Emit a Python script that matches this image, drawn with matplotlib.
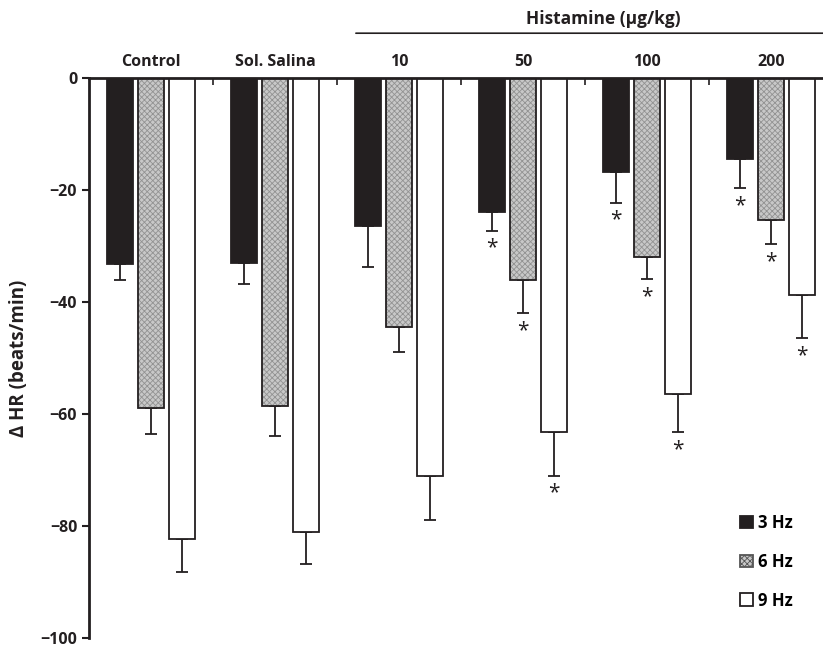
import numpy as np
import matplotlib.pyplot as plt
from matplotlib.patches import Patch

plt.rcParams['font.family'] = ['Open Sans', 'DejaVu Sans']
plt.rcParams['font.weight'] = 'bold'
plt.rcParams['axes.labelweight'] = 'bold'
plt.rcParams['hatch.linewidth'] = 0.6

groups = ["Control", "Sol. Salina", "10", "50", "100", "200"]
hz3 = [-33.2, -33.0, -26.5, -24.0, -16.8, -14.4]
hz3_err = [2.9, 3.8, 7.2, 3.3, 5.5, 5.3]
hz6 = [-59.0, -58.5, -44.5, -36.0, -32.0, -25.3]
hz6_err = [4.5, 5.5, 4.5, 6.0, 3.9, 4.4]
hz9 = [-82.3, -81.0, -71.0, -63.3, -56.5, -38.7]
hz9_err = [6.0, 5.7, 8.0, 7.7, 6.8, 7.8]
stars3 = [False, False, False, True, True, True]
stars6 = [False, False, False, True, True, True]
stars9 = [False, False, False, True, True, True]

ink = '#231f20'
fig = plt.figure(figsize=(8.23, 6.47), dpi=100)
ax = fig.add_axes([89/823, 9/647, 744/823, 560/647])

x = np.arange(len(groups))
w = 0.21
step = 0.25
series = [
    (hz3, hz3_err, stars3, dict(facecolor=ink), "3 Hz"),
    (hz6, hz6_err, stars6, dict(facecolor='#c8c8c8', hatch='xxxxxx'), "6 Hz"),
    (hz9, hz9_err, stars9, dict(facecolor='white'), "9 Hz"),
]
handles = []
for i, (vals, errs, st, style, lab) in enumerate(series):
    xs = x + (i - 1) * step
    if 'hatch' in style:
        ax.bar(xs, vals, w, edgecolor='#929292', linewidth=0, zorder=2, **style)
        ax.bar(xs, vals, w, fill=False, edgecolor=ink, linewidth=1.3, zorder=3)
    else:
        ax.bar(xs, vals, w, edgecolor=ink, linewidth=1.3, zorder=2, **style)
    lower = np.array(errs)
    ax.errorbar(xs, vals, yerr=[lower, np.zeros_like(lower)], fmt='none',
                ecolor=ink, elinewidth=1.3, capsize=4, capthick=1.3, zorder=1)
    for xx, v, e, s in zip(xs, vals, errs, st):
        if s:
            ax.text(xx, v - e - 1.2, "*", ha='center', va='top', fontsize=15,
                    fontweight='normal', color=ink)
    handles.append(Patch(label=lab, linewidth=1.3,
                         edgecolor=ink if 'hatch' not in style else '#555555', **style))

ax.set_xlim(-0.5, len(groups) - 0.5)
ax.set_ylim(-100, 0)
ax.set_yticks([0, -20, -40, -60, -80, -100])
ax.set_yticklabels(["0", "\u221220", "\u221240", "\u221260", "\u221280", "\u2212100"])
ax.tick_params(axis='y', direction='out', length=5, width=1.5, labelsize=11.5, colors=ink)

ax.xaxis.tick_top()
ax.set_xticks(np.arange(len(groups) - 1) + 0.5)
ax.set_xticklabels([])
ax.tick_params(axis='x', direction='in', length=5, width=1.2, color=ink)
ax.set_xticks(x, minor=True)
ax.set_xticklabels(groups, minor=True)
ax.tick_params(axis='x', which='minor', length=0, labelsize=11.5, pad=6, colors=ink)

for s in ['bottom', 'right']:
    ax.spines[s].set_visible(False)
ax.spines['left'].set_linewidth(2)
ax.spines['top'].set_linewidth(2)
ax.spines['left'].set_color(ink)
ax.spines['top'].set_color(ink)

ax.set_ylabel("\u0394 HR (beats/min)", fontsize=13.5, labelpad=8, color=ink)

ax.annotate("", xy=(1.63, 1.08), xycoords=('data', 'axes fraction'),
            xytext=(5.95, 1.08), textcoords=('data', 'axes fraction'),
            arrowprops=dict(arrowstyle='-', lw=1.2, color=ink), annotation_clip=False)
ax.text(3.65, 1.106, "Histamine (\u03bcg/kg)", transform=ax.get_xaxis_transform(),
        ha='center', va='center', fontsize=12.5, color=ink)

ax.legend(handles=handles, loc='lower left', bbox_to_anchor=(0.855, 0.024),
          bbox_transform=ax.transAxes, frameon=False, fontsize=12,
          handlelength=0.8, handleheight=0.8, handletextpad=0.3, labelspacing=1.25)

fig.savefig("out.png", dpi=100)
